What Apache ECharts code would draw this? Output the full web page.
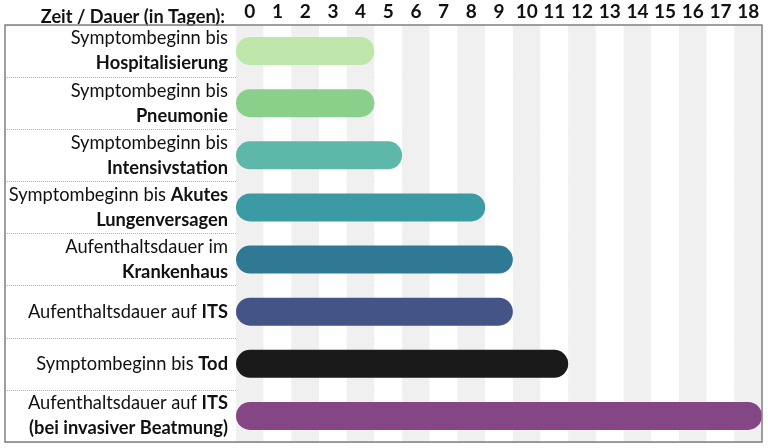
<!DOCTYPE html>
<html>
<head>
<meta charset="utf-8">
<script src="https://cdn.jsdelivr.net/npm/echarts@6/dist/echarts.min.js"></script>
<style>html,body{margin:0;padding:0;background:#fff}#c{width:768px;height:448px}</style>
</head>
<body>
<div id="c"></div>
<script>
// ---- data ----
var labelRegular = [
  "Symptombeginn bis\n",
  "Symptombeginn bis\n",
  "Symptombeginn bis\n",
  "Symptombeginn bis ",
  "Aufenthaltsdauer im\n",
  "Aufenthaltsdauer auf ",
  "Symptombeginn bis ",
  "Aufenthaltsdauer auf "
];
var labelBold = [
  "Hospitalisierung",
  "Pneumonie",
  "Intensivstation",
  "Akutes\nLungenversagen",
  "Krankenhaus",
  "ITS",
  "Tod",
  "ITS\n(bei invasiver Beatmung)"
];
var durations = [5, 5, 6, 9, 10, 10, 12, 19];
var dayTicks = ["0","1","2","3","4","5","6","7","8","9","10","11","12","13","14","15","16","17","18"];
var axisTitle = "Zeit / Dauer (in Tagen):";

// ---- styles ----
var barColors = ["#bfe6ab","#8ad08a","#5db8a9","#3c9aa4","#2f7994","#435486","#1a1a1a","#854685"];
var FONT = "Lato";

var categories = labelRegular.map(function (r, i) { return r + labelBold[i]; });

function richLabel(i) {
  var reg = labelRegular[i], bold = labelBold[i];
  var full = reg + bold;
  var lines = full.split("\n");
  var pos = 0, out = [];
  lines.forEach(function (ln) {
    var start = pos, end = pos + ln.length;
    var cut = Math.min(Math.max(reg.length - start, 0), ln.length);
    var a = ln.slice(0, cut), b = ln.slice(cut);
    var s = "";
    if (a) s += "{r|" + a + "}";
    if (b) s += "{b|" + b + "}";
    out.push(s);
    pos = end + 1;
  });
  return out.join("\n");
}

var chart = echarts.init(document.getElementById("c"), null, {renderer: "canvas"});
chart.setOption({
  animation: false,
  title: {
    text: axisTitle,
    right: 768 - 230,
    top: 3,
    textStyle: {fontFamily: FONT, fontWeight: "bold", fontSize: 18.2, color: "#111"}
  },
  grid: {left: 236, right: 6, top: 25, bottom: 6},
  xAxis: [{
    type: "category",
    position: "top",
    data: dayTicks,
    boundaryGap: true,
    axisLine: {show: false},
    axisTick: {show: false},
    axisLabel: {fontFamily: FONT, fontWeight: "bold", fontSize: 19, color: "#111", margin: 4, interval: 0},
    splitArea: {show: true, interval: 0, areaStyle: {color: ["#f0f0f0", "#ffffff"]}},
    splitLine: {show: false}
  }, {
    type: "value",
    min: 0,
    max: 19,
    show: false
  }],
  yAxis: {
    type: "category",
    inverse: true,
    data: categories,
    axisLine: {show: false},
    axisTick: {show: true, length: 231, lineStyle: {color: "#b4b4b4", type: [1, 1]}},
    splitLine: {show: true, lineStyle: {color: "#b4b4b4", type: [1, 1]}},
    axisLabel: {
      margin: 8,
      formatter: function (v, i) { return richLabel(i); },
      rich: {
        r: {fontFamily: FONT, fontSize: 18.3, color: "#111", lineHeight: 25, align: "right"},
        b: {fontFamily: FONT, fontSize: 18.3, fontWeight: "bold", color: "#111", lineHeight: 25, align: "right"}
      }
    }
  },
  series: [{
    type: "bar",
    xAxisIndex: 1,
    barWidth: 28,
    data: durations.map(function (d, i) {
      return {value: d, itemStyle: {color: barColors[i], borderRadius: 14}};
    }),
    z: 3
  }],
  graphic: [{
    type: "rect",
    shape: {x: 5, y: 25, width: 757, height: 417},
    style: {fill: null, stroke: "#808080", lineWidth: 1.5},
    z: 100
  }]
});
</script>
</body>
</html>
